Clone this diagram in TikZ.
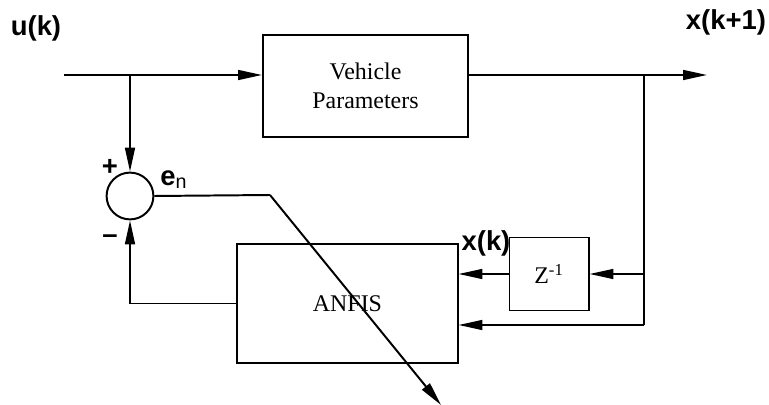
\documentclass[tikz,border=0pt]{standalone}
\usepackage{fontspec}
\setmainfont{Liberation Serif}
\setsansfont{Liberation Sans}
\usetikzlibrary{arrows.meta,positioning}

\tikzset{
  block/.style={draw, line width=1.4pt, inner sep=0pt, align=center,
    font=\fontsize{17}{21}\selectfont},
  sumnode/.style={draw, circle, line width=1.4pt, minimum size=1.17cm, inner sep=0pt},
  tag/.style={font=\fontsize{19.5}{22}\selectfont\sffamily\bfseries, inner sep=0pt},
  sig/.style={line width=1.4pt, -{Triangle[length=17pt,width=7pt]}},
  wire/.style={line width=1.4pt}
}

\begin{document}
\begin{tikzpicture}[x=0.025cm, y=-0.025cm]
    \useasboundingbox (0,0) rectangle (769,405);

    % Draw the blocks and the summing junction
    \node[block, minimum width=5.125cm, minimum height=2.55cm] (veh) at (365.5,86) {Vehicle\\Parameters};
    \node[block, minimum width=5.5cm, minimum height=2.975cm] (anfis) at (347.5,303.5) {ANFIS};
    \node[block, minimum width=1.975cm, minimum height=1.825cm] (zinv) at (549,274) {Z\textsuperscript{-1}};
    \node[sumnode] (sum) at (130,196) {};

    % Add the branch points and free ends
    \coordinate (in) at (64,75);
    \coordinate (out) at (707,75);
    \coordinate (uk) at (130,75);
    \coordinate (xk) at (644,75);
    \coordinate (xkz) at (644,274);
    \coordinate (xkb) at (644,325);
    \coordinate (en) at (270,195);
    \coordinate (tune) at (441,405);

    % Forward path
    \draw[sig] (in) -- (in -| veh.west);
    \draw[sig] (out -| veh.east) -- (out);
    \draw[sig] (uk) -- (sum.north);

    % Feedback through the delay
    \draw[wire] (xk) -- (xkb);
    \draw[sig] (xkz) -- (zinv.east);
    \draw[sig] (zinv.west) -- (zinv.west -| anfis.east);
    \draw[sig] (xkb) -- (xkb -| anfis.east);
    \draw[sig] (anfis.west) -| (sum.south);

    % Error signal tuning the ANFIS
    \draw[wire] (sum.east) -- (en);
    \draw[sig] (en) -- (tune);

    % Add the signal labels
    \node[tag] (lu) at (36,28) {u(k)};
    \node[tag] (lx) at (726,22) {x(k+1)};
    \node[tag] (lxk) at (486,243) {x(k)};
    \node[tag] (plus) at (110,167) {+};
    \node[tag] (minus) at (110,239) {--};
    \node[tag, anchor=base west] (le) at (160,186) {e{\fontsize{14}{14}\selectfont\mdseries\raisebox{-2pt}{n}}};
\end{tikzpicture}
\end{document}
